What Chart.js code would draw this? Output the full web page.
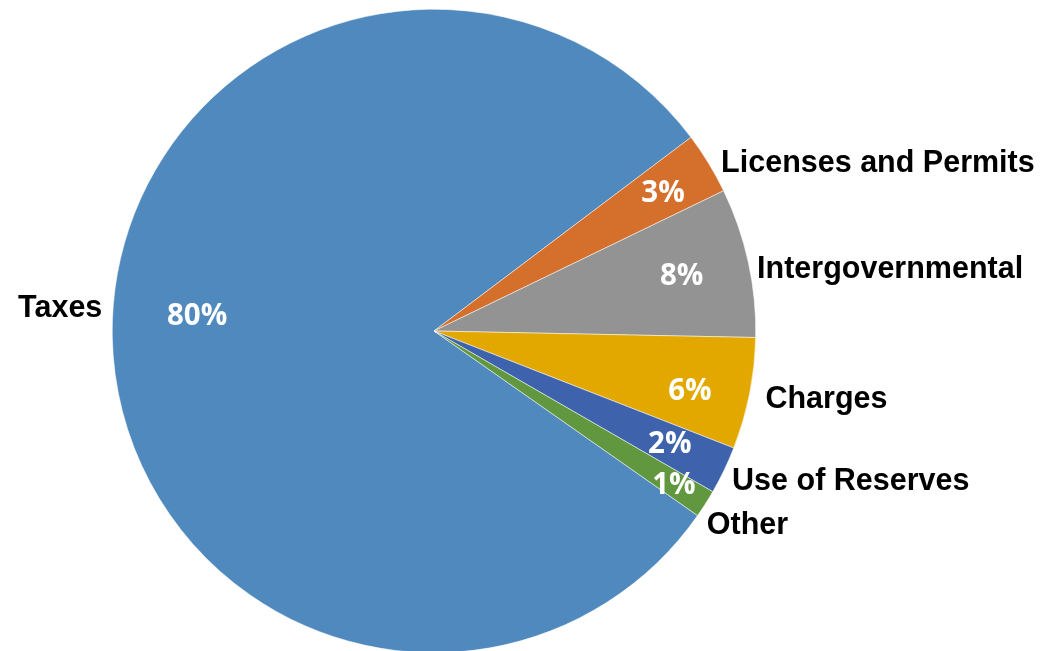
<!DOCTYPE html>
<html>
<head>
<meta charset="utf-8">
<script src="https://cdn.jsdelivr.net/npm/chart.js@4"></script>
<style>
  html, body { margin: 0; padding: 0; background: #ffffff; overflow: hidden; }
  #wrap { width: 1057px; height: 651px; overflow: hidden; }
</style>
</head>
<body>
<div id="wrap"><canvas id="c" width="1057" height="662"></canvas></div>
<script>
// ---- data ----
const categories = ['Taxes', 'Licenses and Permits', 'Intergovernmental', 'Charges', 'Use of Reserves', 'Other'];
const values = [80.0, 3.1, 7.5, 5.6, 2.4, 1.4];
const colors = ['#4F89BD', '#D46F2C', '#939393', '#E2A800', '#3E63AC', '#60973F'];

// ---- label layout (style, relative to each arc's own geometry) ----
const pctLayout = [
  { r: 0.738, da: 5.0 },
  { r: 0.834, da: 0 },
  { r: 0.79,  da: -0.6 },
  { r: 0.816, da: 1.7 },
  { r: 0.811, da: -0.3 },
  { r: 0.884, da: 0 }
];
const nameLayout = [
  { gap: 10, dx: 0,  dy: -31 },
  { gap: 10, dx: 4,  dy: 3 },
  { gap: 10, dx: -1, dy: 7 },
  { gap: 10, dx: 6,  dy: 2 },
  { gap: 10, dx: -1, dy: 5 },
  { gap: 10, dx: -7, dy: 14 }
];

const labelPlugin = {
  id: 'pieLabels',
  afterDatasetsDraw(chart) {
    const ctx = chart.ctx;
    const meta = chart.getDatasetMeta(0);
    const data = chart.data.datasets[0].data;
    const total = data.reduce((a, b) => a + b, 0);
    meta.data.forEach((arc, i) => {
      const p = arc.getProps(['x', 'y', 'startAngle', 'endAngle', 'outerRadius'], true);
      const mid = (p.startAngle + p.endAngle) / 2;
      // percentage inside
      const pl = pctLayout[i];
      const a = mid + pl.da * Math.PI / 180;
      const px = p.x + Math.cos(a) * p.outerRadius * pl.r;
      const py = p.y + Math.sin(a) * p.outerRadius * pl.r;
      ctx.save();
      ctx.font = 'bold 29.5px "Open Sans", "Liberation Sans", Arial, sans-serif';
      ctx.fillStyle = '#ffffff';
      ctx.textAlign = 'center';
      ctx.textBaseline = 'alphabetic';
      ctx.fillText(Math.round(data[i] / total * 100) + '%', px, py + 10.5);
      // category name outside
      const nl = nameLayout[i];
      const nx = p.x + Math.cos(mid) * (p.outerRadius + nl.gap) + nl.dx;
      const ny = p.y + Math.sin(mid) * (p.outerRadius + nl.gap) + nl.dy;
      ctx.font = 'bold 30.5px "Liberation Sans", Arial, sans-serif';
      ctx.fillStyle = '#000000';
      ctx.textAlign = Math.cos(mid) >= 0 ? 'left' : 'right';
      ctx.fillText(chart.data.labels[i], nx, ny + 10.8);
      ctx.restore();
    });
  }
};

new Chart(document.getElementById('c'), {
  type: 'pie',
  data: {
    labels: categories,
    datasets: [{
      data: values,
      backgroundColor: colors,
      borderColor: '#ffffff',
      borderWidth: 0.5
    }]
  },
  options: {
    responsive: false,
    animation: false,
    rotation: 125,
    layout: { padding: { left: 112, right: 301, top: 9, bottom: 9 } },
    plugins: {
      legend: { display: false },
      tooltip: { enabled: false },
      title: { display: false }
    }
  },
  plugins: [labelPlugin]
});
</script>
</body>
</html>
